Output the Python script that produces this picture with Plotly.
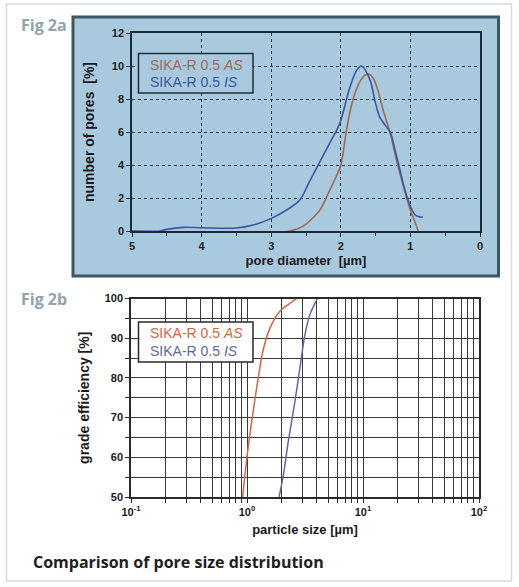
import plotly.graph_objects as go
from plotly.subplots import make_subplots

# Fig 2a - Porengroessenverteilung
durchmesser_is = [5.0, 4.6, 4.5, 4.27, 4.0, 3.5, 3.26, 2.99, 2.78, 2.59, 2.45, 2.30, 2.15, 2.06, 2.0, 1.87, 1.77, 1.70, 1.58, 1.51, 1.44, 1.36, 1.29, 1.22, 1.15, 1.08, 1.0, 0.93, 0.87, 0.82]
anteil_is = [0.0, 0.0, 0.1, 0.22, 0.2, 0.18, 0.36, 0.78, 1.27, 1.88, 3.0, 4.2, 5.4, 6.1, 6.7, 8.7, 9.75, 10.0, 9.15, 7.9, 6.9, 6.4, 6.0, 4.9, 3.7, 2.5, 1.5, 0.97, 0.86, 0.83]
durchmesser_as = [5.0, 2.73, 2.54, 2.40, 2.30, 2.20, 2.10, 2.0, 1.93, 1.87, 1.80, 1.72, 1.65, 1.59, 1.54, 1.48, 1.39, 1.29, 1.20, 1.10, 1.0, 0.94, 0.89]
anteil_as = [0.0, 0.0, 0.3, 0.8, 1.27, 2.1, 3.0, 4.0, 5.8, 7.2, 8.3, 9.1, 9.45, 9.5, 9.3, 8.7, 7.3, 5.9, 4.3, 2.7, 1.27, 0.6, 0.0]

# Fig 2b - Fraktionsabscheidegrad
partikel_as = [0.918, 0.96, 1.03, 1.13, 1.25, 1.38, 1.58, 1.92, 2.3, 2.68]
abscheidegrad_as = [50.0, 55.5, 63.1, 71.5, 80.0, 87.1, 92.6, 96.8, 98.6, 100.0]
partikel_is = [1.89, 2.06, 2.27, 2.59, 2.86, 3.16, 3.49, 3.8, 4.04]
abscheidegrad_is = [50.0, 55.6, 64.0, 74.1, 82.5, 90.9, 96.0, 98.4, 100.0]

legende = ['SIKA-R 0.5 <i>AS</i>', 'SIKA-R 0.5 <i>IS</i>']
log_ticks = [0.1, 1, 10, 100]
log_labels = ['10<sup>-1</sup>', '10<sup>0</sup>', '10<sup>1</sup>', '10<sup>2</sup>']
log_minor = [d * m for d in [0.1, 1, 10] for m in range(2, 10)]

W, H = 519, 587
def px_x(p):
    return p / W
def px_y(p):
    return 1 - p / H

hellblau = '#a9c9df'
rahmen = '#3e5765'
blau_a = '#3a57a4'
braun_a = '#9b6b55'
rot_b = '#d7663f'
blau_b = '#5b69a6'
achse = 'Liberation Sans'

fig = make_subplots(rows=2, cols=1)

fig.add_trace(go.Scatter(x=durchmesser_as, y=anteil_as, mode='lines', line=dict(color=braun_a, width=1.6), line_shape='spline', showlegend=False), row=1, col=1)
fig.add_trace(go.Scatter(x=durchmesser_is, y=anteil_is, mode='lines', line=dict(color=blau_a, width=1.6), line_shape='spline', showlegend=False), row=1, col=1)
fig.add_trace(go.Scatter(x=partikel_as, y=abscheidegrad_as, mode='lines', line=dict(color=rot_b, width=1.5), line_shape='spline', showlegend=False), row=2, col=1)
fig.add_trace(go.Scatter(x=partikel_is, y=abscheidegrad_is, mode='lines', line=dict(color=blau_b, width=1.5), line_shape='spline', showlegend=False), row=2, col=1)

tickfont = dict(family=achse, size=11, color='#1a1a1a', weight='bold')
titelfont_y = dict(family=achse, size=14, color='#1a1a1a', weight='bold')
titelfont_x = dict(family=achse, size=13, color='#1a1a1a', weight='bold')

# Achsen Fig 2a
fig.update_xaxes(row=1, col=1, domain=[px_x(132), px_x(480)], range=[5, 0], dtick=1,
                 showgrid=True, gridcolor='#24384a', griddash='dot', gridwidth=1,
                 showline=True, mirror=True, linecolor='#1c2a36', linewidth=1.5,
                 ticks='outside', ticklen=4, tickcolor='#1c2a36',
                 minor=dict(dtick=0.5, ticks='outside', ticklen=3, tickcolor='#1c2a36', showgrid=False),
                 tickfont=tickfont, zeroline=False, automargin=False,
                 title=dict(text='pore diameter  [µm]', font=titelfont_x, standoff=5))
fig.update_yaxes(row=1, col=1, domain=[px_y(231), px_y(33)], range=[0, 12], dtick=2,
                 showgrid=True, gridcolor='#24384a', griddash='dot', gridwidth=1,
                 showline=True, mirror=True, linecolor='#1c2a36', linewidth=1.5,
                 ticks='outside', ticklen=4, tickcolor='#1c2a36',
                 tickfont=tickfont, zeroline=False, automargin=False,
                 title=dict(text='number of pores  [%]', font=titelfont_y, standoff=14))

# Achsen Fig 2b
fig.update_xaxes(row=2, col=1, type='log', domain=[px_x(131), px_x(479)], range=[-1, 2],
                 tickvals=log_ticks, ticktext=log_labels,
                 showgrid=True, gridcolor='#3a3a3a', gridwidth=1.2,
                 minor=dict(tickvals=log_minor, showgrid=True, gridcolor='#3a3a3a', gridwidth=1.2,
                            ticks='outside', ticklen=4, tickcolor='#2a2a2a'),
                 showline=True, mirror=True, linecolor='#2a2a2a', linewidth=1.5,
                 ticks='outside', ticklen=4, tickcolor='#2a2a2a',
                 tickfont=tickfont, automargin=False,
                 title=dict(text='particle size [µm]', font=titelfont_x, standoff=8))
fig.update_yaxes(row=2, col=1, domain=[px_y(497), px_y(298.5)], range=[50, 100], dtick=10,
                 showgrid=True, gridcolor='#3a3a3a', gridwidth=1.2,
                 minor=dict(dtick=5, showgrid=True, gridcolor='#3a3a3a', gridwidth=1.2,
                            ticks='outside', ticklen=4, tickcolor='#2a2a2a'),
                 showline=True, mirror=True, linecolor='#2a2a2a', linewidth=1.5,
                 ticks='outside', ticklen=4, tickcolor='#2a2a2a',
                 tickfont=tickfont, zeroline=False, automargin=False,
                 title=dict(text='grade efficiency [%]', font=titelfont_y, standoff=12))

shapes = [
    # aeusserer grauer Rahmen
    dict(type='rect', xref='paper', yref='paper', x0=px_x(6.5), x1=px_x(511.5), y0=px_y(581), y1=px_y(4),
         line=dict(color='#d6dadd', width=1.5), fillcolor='white', layer='below'),
    # blauer Kasten Fig 2a
    dict(type='rect', xref='paper', yref='paper', x0=px_x(73), x1=px_x(498.5), y0=px_y(276), y1=px_y(17),
         line=dict(color=rahmen, width=3), fillcolor=hellblau, layer='below'),
    # Legendenkasten Fig 2a
    dict(type='rect', xref='paper', yref='paper', x0=px_x(138.5), x1=px_x(253), y0=px_y(93), y1=px_y(53.5),
         line=dict(color='#1f2f3c', width=1.5), fillcolor=hellblau),
    # Legendenkasten Fig 2b
    dict(type='rect', xref='paper', yref='paper', x0=px_x(138.5), x1=px_x(253), y0=px_y(362), y1=px_y(322),
         line=dict(color='#2a2a2a', width=1.5), fillcolor='white'),
]

annotations = [
    dict(text='<b>Fig 2a</b>', x=px_x(19), y=px_y(25), xanchor='left', yanchor='middle',
         font=dict(family='Open Sans', size=16, color='#8fa3ad')),
    dict(text='<b>Fig 2b</b>', x=px_x(19), y=px_y(299), xanchor='left', yanchor='middle',
         font=dict(family='Open Sans', size=16, color='#8fa3ad')),
    dict(text='<b>Comparison of pore size distribution</b>', x=px_x(31), y=px_y(562), xanchor='left', yanchor='middle',
         font=dict(family='Open Sans', size=16, color='#1e1e1e')),
    dict(text=legende[0], x=px_x(148), y=px_y(64.5), xanchor='left', yanchor='middle',
         font=dict(family=achse, size=14, color=braun_a)),
    dict(text=legende[1], x=px_x(148), y=px_y(82), xanchor='left', yanchor='middle',
         font=dict(family=achse, size=14, color=blau_a)),
    dict(text=legende[0], x=px_x(148), y=px_y(333), xanchor='left', yanchor='middle',
         font=dict(family=achse, size=14, color=rot_b)),
    dict(text=legende[1], x=px_x(148), y=px_y(351), xanchor='left', yanchor='middle',
         font=dict(family=achse, size=14, color=blau_b)),
]
for a in annotations:
    a.update(xref='paper', yref='paper', showarrow=False)

fig.update_layout(width=W, height=H, margin=dict(l=0, r=0, t=0, b=0, autoexpand=False),
                  paper_bgcolor='white', plot_bgcolor='white',
                  shapes=shapes, annotations=annotations)
# Hintergrund im oberen Diagramm hellblau
fig.add_shape(type='rect', xref='x domain', yref='y domain', x0=0, x1=1, y0=0, y1=1,
              fillcolor=hellblau, line=dict(width=0), layer='below', row=1, col=1)

fig.write_html("out.html", config={'displayModeBar': False},
               post_script="document.body.style.margin='0';")
